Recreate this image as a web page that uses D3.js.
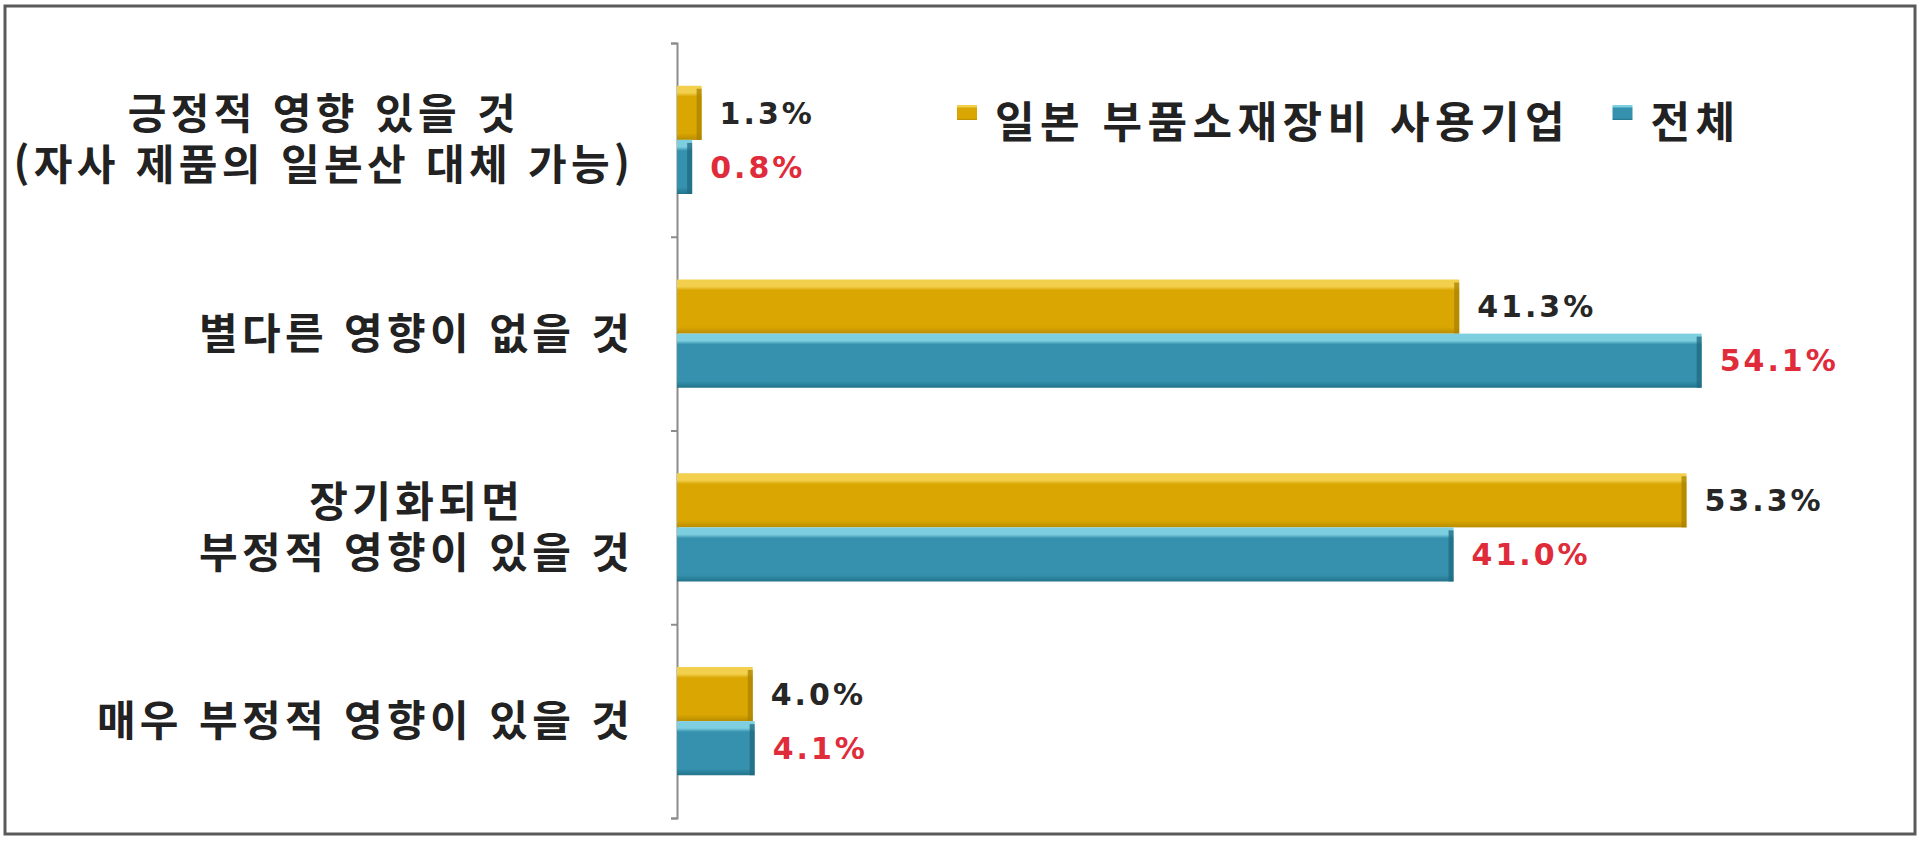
<!DOCTYPE html>
<html lang="ko">
<head>
    <meta charset="utf-8">
    <title>일본 수출규제 영향</title>
    <script src="https://d3js.org/d3.v7.min.js"></script>
    <style>
        body { margin: 0; background: #fff; }
        svg text { font-family: "Noto Sans CJK KR", "Noto Sans", sans-serif; font-weight: bold; }
        .value { font-family: "DejaVu Sans", Verdana, sans-serif; font-weight: bold; }
    </style>
</head>
<body>
    <svg id="chart"></svg>

    <script>
        var categories = [
            ["긍정적 영향 있을 것", "(자사 제품의 일본산 대체 가능)"],
            ["별다른 영향이 없을 것"],
            ["장기화되면", "부정적 영향이 있을 것"],
            ["매우 부정적 영향이 있을 것"]
        ];
        var seriesNames = ["일본 부품소재장비 사용기업", "전체"];
        var usersValues = [1.3, 41.3, 53.3, 4.0];
        var totalValues = [0.8, 54.1, 41.0, 4.1];

        var width = 1920;
        var height = 841;
        var margins = { left: 677, right: 107, top: 43, bottom: 23 };

        var svg = d3.select("#chart")
            .attr("width", width)
            .attr("height", height);

        var defs = svg.append("defs");
        function grad(id, light, main, dark) {
            var g = defs.append("linearGradient")
                .attr("id", id)
                .attr("x1", 0).attr("y1", 0).attr("x2", 0).attr("y2", 1);
            g.append("stop").attr("offset", "0%").attr("stop-color", light);
            g.append("stop").attr("offset", "13%").attr("stop-color", light);
            g.append("stop").attr("offset", "20%").attr("stop-color", main);
            g.append("stop").attr("offset", "88%").attr("stop-color", main);
            g.append("stop").attr("offset", "100%").attr("stop-color", dark);
        }
        grad("gGold", "#f2cf4c", "#d9a602", "#b98c00");
        grad("gBlue", "#7dcfe0", "#3591ad", "#22738a");

        var colors = ["url(#gGold)", "url(#gBlue)"];
        var edgeColors = ["#a98200", "#1f6a80"];
        var labelColors = ["#262626", "#e02b3a"];

        // hangul advance of the label font, used to get the tight glyph pitch of the original
        function pitchSpacing(size, pitch) {
            var t = svg.append("text").attr("font-size", size).text("가가가가");
            var adv = t.node().getComputedTextLength() / 4;
            t.remove();
            return pitch - adv;
        }

        // frame
        svg.append("rect")
            .attr("x", 5).attr("y", 6)
            .attr("width", width - 10).attr("height", height - 13)
            .attr("fill", "none")
            .attr("stroke", "#5a5a5a")
            .attr("stroke-width", 3);

        var x = d3.scaleLinear()
            .domain([0, 60])
            .range([margins.left, margins.left + 60 * 18.94]);

        var y0 = d3.scaleBand()
            .domain(d3.range(categories.length))
            .range([margins.top, height - margins.bottom]);

        var y1 = d3.scaleBand()
            .domain([0, 1])
            .range([0, y0.bandwidth()])
            .paddingOuter(0.79);

        // axis line + ticks between categories
        var yaxis = d3.axisLeft(d3.scaleLinear().domain([0, 4]).range([margins.top, height - margins.bottom]))
            .ticks(4)
            .tickSize(6)
            .tickFormat("");
        var axisG = svg.append("g")
            .attr("transform", "translate(" + margins.left + ",0)")
            .call(yaxis);
        axisG.selectAll("path, line").attr("stroke", "#8c8c8c").attr("stroke-width", 2);

        var rows = categories.map(function (c, i) {
            return { i: i, vals: [usersValues[i], totalValues[i]] };
        });

        var groups = svg.selectAll("g.cat")
            .data(rows)
            .enter()
            .append("g")
            .attr("class", "cat")
            .attr("transform", function (d) { return "translate(0," + y0(d.i) + ")"; });

        var bars = groups.selectAll("g.bar")
            .data(function (d) { return d.vals.map(function (v, s) { return { v: v, s: s }; }); })
            .enter()
            .append("g")
            .attr("class", "bar");

        bars.append("rect")
            .attr("x", x(0))
            .attr("y", function (d) { return y1(d.s); })
            .attr("width", function (d) { return x(d.v) - x(0); })
            .attr("height", y1.bandwidth())
            .attr("fill", function (d) { return colors[d.s]; });

        bars.append("rect")
            .attr("x", function (d) { return Math.max(x(0), x(d.v) - 5); })
            .attr("y", function (d) { return y1(d.s) + 3; })
            .attr("width", function (d) { return Math.min(5, x(d.v) - x(0)); })
            .attr("height", y1.bandwidth() - 3)
            .attr("fill", function (d) { return edgeColors[d.s]; })
            .attr("opacity", 0.75);

        bars.append("text")
            .attr("class", "value")
            .attr("x", function (d) { return x(d.v) + 18; })
            .attr("y", function (d) { return y1(d.s) + y1.bandwidth() / 2; })
            .attr("dy", "0.36em")
            .attr("font-size", 30)
            .attr("letter-spacing", 3)
            .attr("fill", function (d) { return labelColors[d.s]; })
            .text(function (d) { return d.v.toFixed(1) + "%"; });

        // category labels: block right-aligned, lines centred among themselves
        var labelRight = 630;
        var lineGap = 51;
        var catSpacing = pitchSpacing(42, 43);
        groups.each(function (d) {
            var lines = categories[d.i];
            var cy = y0.bandwidth() / 2;
            var label = d3.select(this).append("text")
                .attr("class", "cat-label")
                .attr("font-size", 42)
                .attr("letter-spacing", catSpacing)
                .attr("fill", "#222");
            var spans = label.selectAll("tspan")
                .data(lines)
                .enter()
                .append("tspan")
                .attr("y", function (l, k) { return cy + (k - (lines.length - 1) / 2) * lineGap + 15; })
                .text(function (l) { return l; });
            var widths = [];
            spans.each(function () { widths.push(this.getComputedTextLength() - catSpacing); });
            var maxW = d3.max(widths);
            spans.attr("x", function (l, k) { return labelRight - maxW / 2 - widths[k] / 2; });
        });

        // legend
        var legendSpacing = pitchSpacing(43, 45);
        var legendX = 957;
        seriesNames.forEach(function (name, i) {
            var g = svg.append("g")
                .attr("class", "legend")
                .attr("transform", "translate(" + legendX + ",105)");
            g.append("rect")
                .attr("width", 20)
                .attr("height", 15)
                .attr("fill", colors[i]);
            var t = g.append("text")
                .attr("x", 38)
                .attr("y", 18)
                .attr("dy", "0.35em")
                .attr("font-size", 43)
                .attr("letter-spacing", legendSpacing)
                .attr("fill", "#222")
                .text(name);
            legendX += 38 + t.node().getComputedTextLength() - legendSpacing + 48;
        });
    </script>
</body>
</html>
